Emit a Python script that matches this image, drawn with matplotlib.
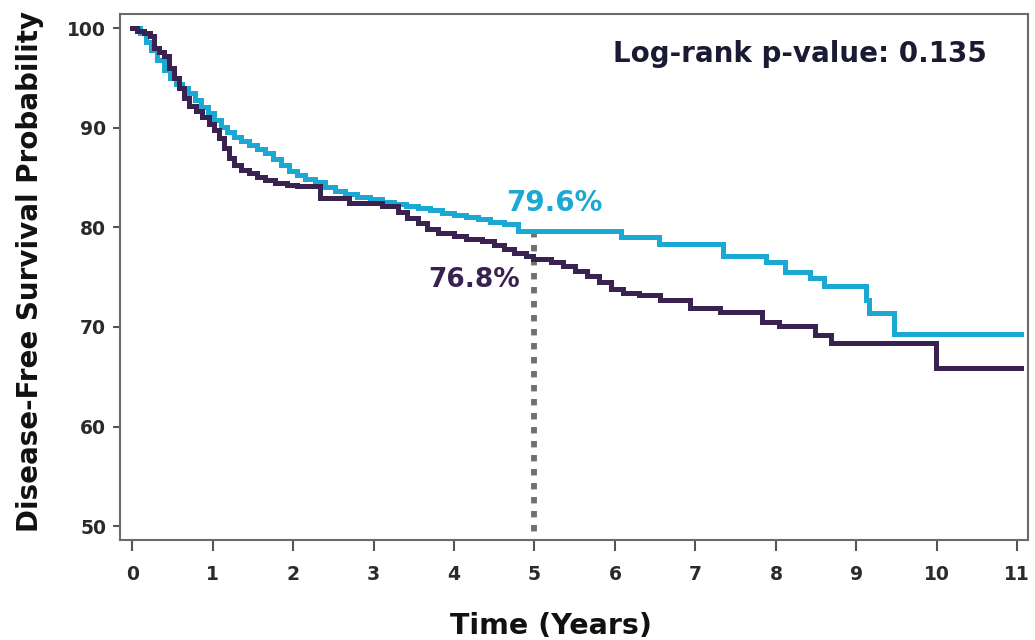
import numpy as np
from matplotlib import pyplot as plt

# Kaplan-Meier step estimates (years, % disease-free)
t_cyan = [0, 0.10, 0.17, 0.24, 0.31, 0.39, 0.47, 0.55, 0.62, 0.70, 0.78, 0.86,
          0.94, 1.02, 1.10, 1.18, 1.26, 1.35, 1.45, 1.55, 1.65, 1.75, 1.85,
          1.95, 2.05, 2.15, 2.27, 2.40, 2.52, 2.65, 2.80, 2.95, 3.10, 3.25,
          3.40, 3.55, 3.70, 3.85, 4.00, 4.15, 4.30, 4.45, 4.62, 4.80, 6.08,
          6.55, 7.34, 7.88, 8.11, 8.42, 8.60, 9.12, 9.16, 9.47, 11.05]
s_cyan = [100, 99.5, 98.6, 97.8, 96.8, 95.8, 95.0, 94.4, 94.0, 93.5, 92.8, 92.1,
          91.5, 90.8, 90.1, 89.6, 89.1, 88.7, 88.3, 87.9, 87.5, 86.9, 86.3,
          85.7, 85.2, 84.8, 84.5, 84.0, 83.6, 83.3, 83.0, 82.8, 82.5, 82.3,
          82.1, 81.9, 81.7, 81.4, 81.2, 81.0, 80.8, 80.5, 80.3, 79.6, 79.0,
          78.3, 77.1, 76.5, 75.5, 74.9, 74.1, 72.7, 71.4, 69.3, 69.3]

t_purple = [0, 0.06, 0.15, 0.22, 0.27, 0.33, 0.40, 0.46, 0.52, 0.58, 0.64, 0.71,
            0.79, 0.87, 0.95, 1.02, 1.08, 1.14, 1.20, 1.26, 1.35, 1.45, 1.55,
            1.65, 1.78, 1.92, 2.05, 2.33, 2.70, 3.10, 3.30, 3.42, 3.55, 3.66,
            3.80, 4.00, 4.15, 4.35, 4.50, 4.62, 4.75, 4.90, 4.98, 5.20, 5.35,
            5.50, 5.65, 5.80, 5.95, 6.10, 6.30, 6.56, 6.93, 7.30, 7.83, 8.04,
            8.48, 8.69, 9.99, 11.05]
s_purple = [100, 99.7, 99.5, 99.2, 98.0, 97.6, 97.2, 96.0, 95.0, 94.0, 93.0, 92.2,
            91.7, 91.1, 90.4, 89.8, 89.0, 88.0, 87.0, 86.3, 85.8, 85.4, 85.0,
            84.7, 84.4, 84.2, 84.1, 82.9, 82.4, 82.1, 81.5, 80.9, 80.4, 79.8,
            79.4, 79.1, 78.8, 78.6, 78.2, 77.8, 77.4, 77.1, 76.8, 76.5, 76.1,
            75.6, 75.1, 74.5, 73.8, 73.4, 73.2, 72.7, 71.9, 71.5, 70.5, 70.1,
            69.2, 68.4, 65.9, 65.9]

landmark = 5
cyan_5y = 79.6
purple_5y = 76.8
p_value = 0.135

cyan = '#1ba8d2'
purple = '#3a2250'

fig = plt.figure(figsize=(10.35, 6.4), dpi=100)
ax = fig.add_axes([0.116, 0.156, 0.877, 0.822])

ax.plot(t_cyan, s_cyan, drawstyle='steps-post', color=cyan, lw=3.6,
        solid_joinstyle='miter', zorder=3)
ax.plot(t_purple, s_purple, drawstyle='steps-post', color=purple, lw=3.6,
        solid_joinstyle='miter', zorder=4)

# 5-year landmark
ax.plot([landmark, landmark], [cyan_5y, 49.0], color='#707070', lw=4.2,
        linestyle=(0, (1.1, 1.3)), dash_capstyle='butt', zorder=2)
ax.text(landmark + 0.25, cyan_5y + 1.4, f'{cyan_5y}%', color=cyan, fontsize=20,
        fontweight='bold', ha='center', va='bottom')
ax.text(landmark - 0.18, purple_5y - 0.8, f'{purple_5y}%', color=purple,
        fontsize=19, fontweight='bold', ha='right', va='top')

ax.text(0.955, 0.909, f'Log-rank p-value: {p_value}', transform=ax.transAxes,
        color='#1a1a33', fontsize=20, fontweight='bold', ha='right',
        va='baseline')

ax.set_xlim(-0.15, 11.13)
ax.set_ylim(48.6, 101.4)
ax.set_xticks(range(0, 12))
ax.set_yticks(range(50, 101, 10))

for side in ['left', 'bottom', 'top', 'right']:
    ax.spines[side].set_color('#6a6a6a')
    ax.spines[side].set_linewidth(1.5)

ax.tick_params(axis='x', length=8, width=1.5, color='#555555', pad=10,
               labelsize=13.5, labelcolor='#2a2a2a')
ax.tick_params(axis='y', length=5, width=1.5, color='#555555', pad=5,
               labelsize=13.5, labelcolor='#2a2a2a')
for lab in ax.get_xticklabels() + ax.get_yticklabels():
    lab.set_fontweight('bold')

ax.set_xlabel('Time (Years)', fontsize=20.5, fontweight='bold', color='#111111')
ax.xaxis.set_label_coords(0.475, -0.137)
ax.set_ylabel('Disease-Free Survival Probability', fontsize=20,
              fontweight='bold', color='#111111')
ax.yaxis.set_label_coords(-0.084, 0.51)

fig.savefig('out.png', dpi=100)
